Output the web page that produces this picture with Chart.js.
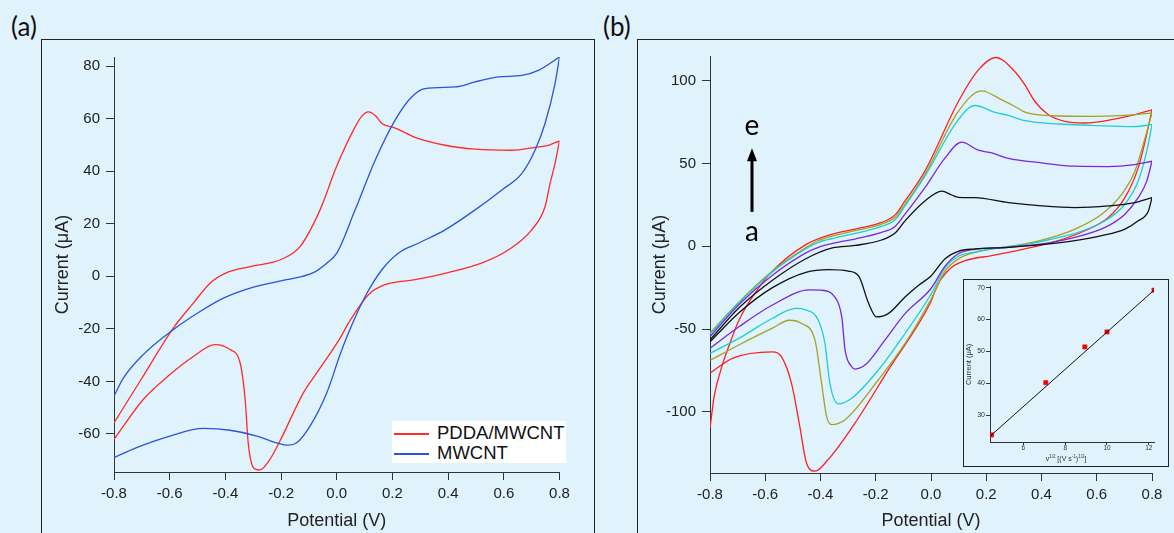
<!DOCTYPE html>
<html lang="en">
<head>
<meta charset="utf-8">
<script src="https://cdn.jsdelivr.net/npm/chart.js@4"></script>
<style>
  html, body { margin: 0; padding: 0; background: #e0f2fc; }
  #page { position: relative; width: 1174px; height: 533px; overflow: hidden; background: #e0f2fc;
          font-family: "Liberation Sans", Arial, sans-serif; color: #222; }
  .abs { position: absolute; }
  .frame { position: absolute; border: 1px solid #222; box-sizing: border-box; }
  .tag { position: absolute; font-family: Lato, "Open Sans", sans-serif; font-size: 26px; line-height: 1; color: #111; }
  #legend { left: 392px; top: 421px; width: 174px; height: 42px; background: #fff; }
  #legend .swatch { position: absolute; left: 2px; width: 35px; height: 1.5px; }
  #legend .txt { position: absolute; left: 45px; font-size: 18.5px; line-height: 1; white-space: nowrap; color: #111; }
  #insetBox { left: 963px; top: 279px; width: 206px; height: 188px; background: #e0f2fc; z-index: 2; }
  #insetChart { left: 964px; top: 280px; z-index: 3; }
  #insetX { left: 1006px; top: 453px; width: 120px; text-align: center; font-size: 7px; line-height: 8px; color: #333; z-index: 4; white-space: nowrap; }
  #insetX sup { font-size: 4.5px; vertical-align: 3px; }
</style>
</head>
<body>
<div id="page">
  <div class="tag" style="left:11px; top:13px;">(a)</div>
  <div class="tag" style="left:603px; top:13px;">(b)</div>
  <div class="frame" style="left:41px; top:39px; width:554px; height:600px;"></div>
  <div class="frame" style="left:637px; top:39px; width:600px; height:600px;"></div>
  <canvas id="chartA" class="abs" width="551" height="493" style="left:42px; top:40px;"></canvas>
  <canvas id="chartB" class="abs" width="536" height="493" style="left:638px; top:40px;"></canvas>
  <div id="legend" class="abs">
    <div class="swatch" style="top:12px; background:#ff2a2a;"></div>
    <div class="txt" style="top:3px;">PDDA/MWCNT</div>
    <div class="swatch" style="top:32px; background:#2a55d8;"></div>
    <div class="txt" style="top:23px;">MWCNT</div>
  </div>
  <div id="insetBox" class="frame"></div>
  <canvas id="insetChart" class="abs" width="204" height="186"></canvas>
  <div id="insetX" class="abs">v<sup>1/2</sup> [(V s<sup>-1</sup>)<sup>1/2</sup>]</div>
</div>
<script>
// ---- axes ----
const potentialTicks = [-0.8, -0.6, -0.4, -0.2, 0, 0.2, 0.4, 0.6, 0.8];
const aCurrentTicks = [-60, -40, -20, 0, 20, 40, 60, 80];
const bCurrentTicks = [-100, -50, 0, 50, 100];
const insetRateTicks = [6, 8, 10, 12];
const insetCurrentTicks = [30, 40, 50, 60, 70];

// ---- panel (a): PDDA/MWCNT (red) and MWCNT (blue), anodic + cathodic sweeps ----
const aRedFwdE = [-0.8, -0.7, -0.587, -0.515, -0.455, -0.395, -0.311, -0.198, -0.132, -0.06, 0.0, 0.066, 0.09, 0.114, 0.14, 0.162, 0.203, 0.24, 0.281, 0.389, 0.497, 0.629, 0.712, 0.76, 0.8];
const aRedFwdI = [-55.8, -38.8, -19.7, -10.2, -2.6, 1.4, 3.7, 6.5, 11.3, 25.3, 42.0, 56.9, 61.0, 62.6, 61.0, 58.2, 56.7, 55.0, 52.9, 49.9, 48.4, 48.0, 49.1, 49.9, 51.6];
const aRedRevE = [-0.8, -0.695, -0.599, -0.515, -0.437, -0.383, -0.347, -0.329, -0.318, -0.305, -0.29, -0.276, -0.24, -0.204, -0.12, -0.072, 0.012, 0.042, 0.114, 0.173, 0.281, 0.4, 0.52, 0.617, 0.7, 0.748, 0.766, 0.784, 0.8];
const aRedRevI = [-62.1, -46.9, -37.4, -30.5, -26.0, -27.9, -33.0, -46.9, -63.4, -71.6, -73.5, -73.7, -69.7, -62.7, -44.4, -36.8, -23.5, -17.8, -7.0, -3.2, -1.3, 1.4, 5.0, 10.1, 17.7, 26.5, 35.3, 43.0, 51.6];
const aBlueFwdE = [-0.8, -0.766, -0.695, -0.587, -0.491, -0.407, -0.299, -0.18, -0.084, -0.036, 0.0, 0.066, 0.138, 0.209, 0.269, 0.317, 0.425, 0.497, 0.58, 0.665, 0.724, 0.8];
const aBlueFwdI = [-45.6, -38.7, -29.8, -20.3, -13.4, -8.3, -4.1, -1.3, 1.4, 5.0, 8.8, 25.3, 44.2, 59.4, 68.3, 71.5, 72.1, 74.0, 75.9, 76.5, 78.4, 83.5];
const aBlueRevE = [-0.8, -0.719, -0.599, -0.479, -0.383, -0.287, -0.216, -0.174, -0.144, -0.096, -0.036, 0.012, 0.042, 0.102, 0.162, 0.221, 0.293, 0.389, 0.497, 0.593, 0.665, 0.712, 0.748, 0.784, 0.8];
const aBlueRevI = [-69.0, -65.2, -60.8, -57.9, -58.6, -60.8, -63.4, -64.3, -63.4, -57.0, -44.4, -29.8, -21.6, -7.7, 2.5, 8.8, 12.6, 17.7, 25.3, 32.9, 39.2, 48.0, 58.2, 73.4, 83.5];

// ---- panel (b): scan rates a..e ----
const bBlackFwdE = [-0.8, -0.694, -0.574, -0.453, -0.357, -0.275, -0.179, -0.13, -0.094, -0.022, 0.039, 0.075, 0.099, 0.159, 0.28, 0.401, 0.521, 0.642, 0.738, 0.8];
const bBlackFwdI = [-56.5, -37.0, -20.5, -7.5, -1.0, 0.5, 3.8, 8.0, 15.4, 27.4, 33.4, 31.0, 29.6, 29.4, 26.4, 24.4, 23.4, 24.4, 26.4, 29.4];
const bBlackRevE = [-0.8, -0.694, -0.574, -0.453, -0.37, -0.3, -0.26, -0.227, -0.197, -0.155, -0.094, -0.046, 0.0, 0.051, 0.099, 0.159, 0.28, 0.401, 0.521, 0.618, 0.702, 0.75, 0.787, 0.8];
const bBlackRevI = [-57.7, -40.0, -25.0, -15.7, -14.1, -15.0, -18.5, -34.0, -42.7, -40.7, -30.7, -23.7, -18.0, -7.5, -3.0, -1.6, -0.6, 1.0, 3.4, 6.4, 10.4, 15.4, 21.4, 29.4];
const bPurpleFwdE = [-0.8, -0.694, -0.574, -0.453, -0.408, -0.35, -0.275, -0.179, -0.13, -0.094, -0.022, 0.051, 0.111, 0.171, 0.22, 0.28, 0.401, 0.521, 0.642, 0.738, 0.8];
const bPurpleFwdI = [-54.5, -35.0, -17.5, -4.0, -0.6, 2.0, 4.4, 8.4, 12.0, 19.4, 35.4, 53.4, 62.9, 58.1, 56.4, 53.1, 50.4, 48.4, 48.2, 49.4, 51.4];
const bPurpleRevE = [-0.8, -0.694, -0.574, -0.44, -0.4, -0.348, -0.323, -0.311, -0.287, -0.275, -0.239, -0.167, -0.094, 0.0, 0.051, 0.099, 0.159, 0.28, 0.401, 0.521, 0.63, 0.702, 0.75, 0.781, 0.8];
const bPurpleRevI = [-61.7, -48.5, -35.5, -26.3, -26.5, -30.7, -42.7, -62.7, -72.8, -74.2, -71.8, -56.7, -40.7, -25.5, -12.0, -4.5, -1.8, -0.6, 1.4, 5.4, 11.4, 19.4, 29.4, 39.4, 51.4];
const bCyanFwdE = [-0.8, -0.694, -0.574, -0.453, -0.408, -0.35, -0.275, -0.179, -0.13, -0.094, -0.022, 0.099, 0.159, 0.232, 0.28, 0.34, 0.461, 0.582, 0.727, 0.8];
const bCyanFwdI = [-53.0, -34.0, -15.5, -1.5, 2.4, 5.0, 7.8, 12.0, 16.0, 24.4, 42.4, 76.5, 85.1, 80.9, 79.1, 75.9, 73.9, 73.1, 72.3, 73.5];
const bCyanRevE = [-0.8, -0.694, -0.574, -0.489, -0.456, -0.408, -0.384, -0.366, -0.336, -0.287, -0.191, -0.094, 0.0, 0.051, 0.099, 0.159, 0.22, 0.34, 0.437, 0.533, 0.63, 0.702, 0.75, 0.781, 0.8];
const bCyanRevI = [-64.7, -55.5, -43.5, -37.5, -38.3, -44.7, -58.7, -82.8, -95.2, -91.8, -74.8, -52.7, -29.0, -13.0, -6.0, -3.5, -1.6, 1.0, 4.4, 8.4, 15.4, 25.4, 39.4, 57.5, 73.5];
const bOliveFwdE = [-0.8, -0.694, -0.574, -0.453, -0.408, -0.35, -0.275, -0.179, -0.13, -0.094, -0.022, 0.099, 0.183, 0.256, 0.304, 0.34, 0.437, 0.582, 0.702, 0.8];
const bOliveFwdI = [-52.5, -33.5, -15.0, -0.8, 3.5, 6.5, 9.4, 13.4, 17.5, 25.4, 43.4, 81.5, 93.9, 88.5, 84.5, 81.1, 78.9, 78.5, 79.1, 80.5];
const bOliveRevE = [-0.8, -0.694, -0.574, -0.513, -0.468, -0.42, -0.396, -0.378, -0.36, -0.311, -0.191, -0.094, 0.0, 0.051, 0.099, 0.159, 0.22, 0.34, 0.437, 0.521, 0.618, 0.69, 0.738, 0.775, 0.8];
const bOliveRevI = [-69.0, -59.5, -49.5, -44.7, -46.7, -56.7, -82.8, -102.8, -107.8, -104.8, -80.8, -58.7, -32.0, -15.0, -7.6, -3.7, -1.6, 1.4, 5.4, 10.4, 19.4, 31.4, 45.4, 65.5, 80.5];
const bRedFwdE = [-0.8, -0.785, -0.761, -0.75, -0.737, -0.696, -0.634, -0.574, -0.453, -0.356, -0.275, -0.179, -0.13, -0.094, -0.022, 0.099, 0.171, 0.234, 0.304, 0.34, 0.376, 0.425, 0.485, 0.557, 0.654, 0.738, 0.8];
const bRedFwdI = [-110.0, -90.8, -74.8, -68.8, -62.7, -45.0, -27.5, -15.0, 1.0, 7.4, 10.4, 14.4, 19.0, 27.4, 45.4, 87.5, 106.5, 114.1, 105.5, 97.5, 87.5, 79.5, 75.5, 74.5, 76.5, 79.5, 82.5];
const bRedRevE = [-0.8, -0.719, -0.574, -0.541, -0.505, -0.475, -0.451, -0.42, -0.372, -0.275, -0.155, -0.004, 0.026, 0.075, 0.123, 0.22, 0.34, 0.461, 0.557, 0.642, 0.702, 0.75, 0.775, 0.8];
const bRedRevI = [-76.7, -67.7, -63.8, -66.8, -82.8, -108.8, -130.8, -135.9, -128.8, -106.8, -74.8, -34.7, -22.7, -12.7, -8.7, -5.6, -1.6, 3.4, 9.4, 17.4, 29.4, 47.4, 63.5, 82.5];

// scan direction arrow annotation (panel b)
const arrowE = -0.648;
const arrowI = [20.8, 59.3];
const labelEI = 67.4, labelAI = 3.4;

// ---- inset: peak current vs square root of scan rate ----
const sqrtRate = [4.47, 7.07, 8.94, 10.0, 12.25];
const peakCurrent = [23.8, 40.2, 51.4, 56.1, 69.2];
const fitX = [4.42, 12.25];
const fitY = [23.5, 69.2];

Chart.defaults.font.family = '"Liberation Sans", Arial, sans-serif';
Chart.defaults.color = '#222';
Chart.defaults.animation = false;

const pts = (xs, ys) => xs.map((x, i) => ({ x: x, y: ys[i] }));
function sweep(xs, ys, color) {
  return {
    data: pts(xs, ys), borderColor: color, backgroundColor: color,
    showLine: true, pointRadius: 0, borderWidth: 1.3,
    cubicInterpolationMode: 'monotone'
  };
}

function axes(yTicks, yMin, yMax, w, h, yTitlePad) {
  return {
    x: {
      type: 'linear', min: -0.8, max: 0.8,
      afterBuildTicks: s => { s.ticks = potentialTicks.map(v => ({ value: v })); },
      afterFit: s => { s.height = h; },
      grid: { drawOnChartArea: false, color: '#333', tickLength: 8 },
      border: { color: '#333', width: 1 },
      ticks: { padding: 5, font: { size: 15 }, color: '#222', maxRotation: 0, autoSkip: false, callback: v => v.toFixed(1) },
      title: { display: true, text: 'Potential (V)', font: { size: 18 }, color: '#222', padding: { top: 0, bottom: 1.2 } }
    },
    y: {
      type: 'linear', min: yMin, max: yMax,
      afterBuildTicks: s => { s.ticks = yTicks.map(v => ({ value: v })); },
      afterFit: s => { s.width = w; },
      grid: { drawOnChartArea: false, color: '#333', tickLength: 8 },
      border: { color: '#333', width: 1 },
      ticks: { padding: 6, font: { size: 15 }, color: '#222', autoSkip: false, callback: v => String(v) },
      title: { display: true, text: 'Current (μA)', font: { size: 18 }, color: '#222', padding: { top: yTitlePad, bottom: 0 } }
    }
  };
}

const basePlugins = { legend: { display: false }, tooltip: { enabled: false } };

new Chart(document.getElementById('chartA'), {
  type: 'scatter',
  data: {
    datasets: [
      sweep(aBlueFwdE, aBlueFwdI, '#2a55d8'),
      sweep(aBlueRevE, aBlueRevI, '#2a55d8'),
      sweep(aRedFwdE, aRedFwdI, '#ff2a2a'),
      sweep(aRedRevE, aRedRevI, '#ff2a2a')
    ]
  },
  options: {
    responsive: false,
    layout: { padding: { top: 17, right: 33.5, left: 0, bottom: 0 } },
    plugins: basePlugins,
    scales: axes(aCurrentTicks, -74.5, 83.5, 72, 61, 10.2)
  }
});

const arrowPlugin = {
  id: 'scanArrow',
  afterDatasetsDraw(chart) {
    const { ctx, scales } = chart;
    const px = scales.x.getPixelForValue(arrowE);
    const yb = scales.y.getPixelForValue(arrowI[0]);
    const yt = scales.y.getPixelForValue(arrowI[1]);
    ctx.save();
    ctx.strokeStyle = '#000';
    ctx.fillStyle = '#000';
    ctx.lineWidth = 3;
    ctx.beginPath(); ctx.moveTo(px, yb); ctx.lineTo(px, yt + 10); ctx.stroke();
    ctx.beginPath(); ctx.moveTo(px, yt); ctx.lineTo(px - 5, yt + 13); ctx.lineTo(px + 5, yt + 13); ctx.closePath(); ctx.fill();
    ctx.font = '28px Lato, "Open Sans", sans-serif';
    ctx.textAlign = 'center';
    ctx.textBaseline = 'alphabetic';
    ctx.fillText('e', px, scales.y.getPixelForValue(labelEI));
    ctx.fillText('a', px, scales.y.getPixelForValue(labelAI));
    ctx.restore();
  }
};

new Chart(document.getElementById('chartB'), {
  type: 'scatter',
  data: {
    datasets: [
      sweep(bBlackFwdE, bBlackFwdI, '#111111'),
      sweep(bBlackRevE, bBlackRevI, '#111111'),
      sweep(bPurpleFwdE, bPurpleFwdI, '#7d27d9'),
      sweep(bPurpleRevE, bPurpleRevI, '#7d27d9'),
      sweep(bCyanFwdE, bCyanFwdI, '#1fcece'),
      sweep(bCyanRevE, bCyanRevI, '#1fcece'),
      sweep(bOliveFwdE, bOliveFwdI, '#a3a323'),
      sweep(bOliveRevE, bOliveRevI, '#a3a323'),
      sweep(bRedFwdE, bRedFwdI, '#ff2020'),
      sweep(bRedRevE, bRedRevI, '#ff2020')
    ]
  },
  options: {
    responsive: false,
    layout: { padding: { top: 16, right: 22, left: 0, bottom: 0 } },
    plugins: basePlugins,
    scales: axes(bCurrentTicks, -137, 115, 72, 60, 11.7)
  },
  plugins: [arrowPlugin]
});

new Chart(document.getElementById('insetChart'), {
  type: 'scatter',
  data: {
    datasets: [
      { data: pts(fitX, fitY), showLine: true, pointRadius: 0, borderColor: '#111', borderWidth: 1 },
      { data: pts(sqrtRate, peakCurrent), pointStyle: 'rect', pointRadius: 3, backgroundColor: '#ff0000', borderColor: '#d00000', borderWidth: 0.5 }
    ]
  },
  options: {
    responsive: false,
    layout: { padding: { top: 6.7, right: 14, left: 0, bottom: 0 } },
    plugins: basePlugins,
    scales: {
      x: {
        type: 'linear', min: 4.4, max: 12.25,
        afterBuildTicks: s => { s.ticks = insetRateTicks.map(v => ({ value: v })); },
        afterFit: s => { s.height = 24; },
        grid: { drawOnChartArea: false, color: '#333', tickLength: 3 },
        border: { color: '#333', width: 1 },
        ticks: { padding: -1, font: { size: 6.5 }, color: '#333', maxRotation: 0, autoSkip: false }
      },
      y: {
        type: 'linear', min: 21.6, max: 70.3,
        afterBuildTicks: s => { s.ticks = insetCurrentTicks.map(v => ({ value: v })); },
        afterFit: s => { s.width = 26; },
        grid: { drawOnChartArea: false, color: '#333', tickLength: 4 },
        border: { color: '#333', width: 1 },
        ticks: { padding: 1, font: { size: 7 }, color: '#333', autoSkip: false },
        title: { display: true, text: 'Current (μA)', font: { size: 7.5 }, color: '#333', padding: { top: 0, bottom: 0 } }
      }
    }
  }
});
</script>
</body>
</html>
